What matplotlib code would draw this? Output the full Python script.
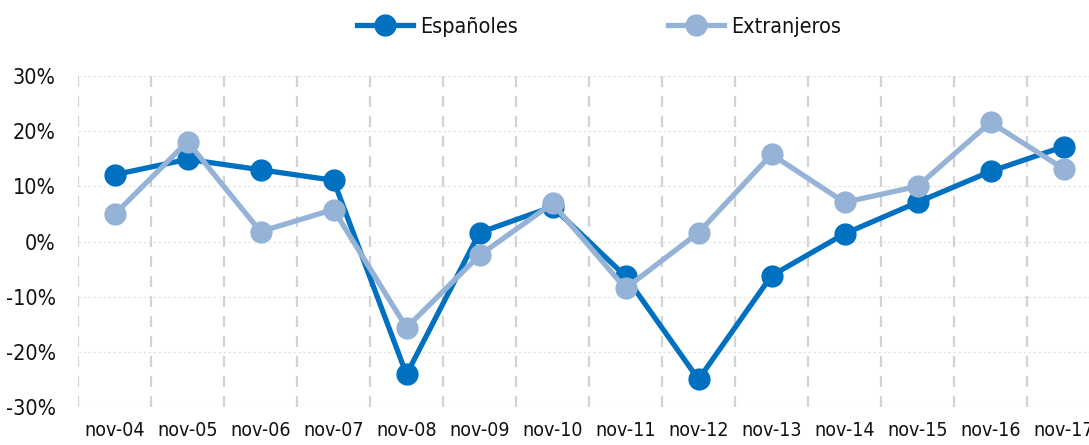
import matplotlib
matplotlib.use("Agg")
import matplotlib.pyplot as plt
from matplotlib.ticker import FuncFormatter, MultipleLocator

plt.rcParams['font.family'] = ['DejaVu Sans']
plt.rcParams['font.stretch'] = 'condensed'

categories = ["nov-04", "nov-05", "nov-06", "nov-07", "nov-08", "nov-09", "nov-10",
              "nov-11", "nov-12", "nov-13", "nov-14", "nov-15", "nov-16", "nov-17"]
espanoles = [12.1, 14.9, 13.0, 11.1, -24.1, 1.6, 6.3, -6.3, -25.0, -6.2, 1.4, 7.1, 12.7, 17.2]
extranjeros = [4.9, 18.1, 1.8, 5.8, -15.6, -2.5, 6.9, -8.5, 1.6, 15.8, 7.1, 10.0, 21.6, 13.2]

c_esp = "#0070C0"
c_ext = "#95B3D7"

fig = plt.figure(figsize=(10.89, 4.45), dpi=100)
ax = fig.add_axes([78 / 1089, 1 - 407 / 445, (1100 - 78) / 1089, (407 - 76) / 445])

x = list(range(len(categories)))
ax.plot(x, espanoles, color=c_esp, lw=3.8, marker="o", ms=15, label="Españoles", zorder=3)
ax.plot(x, extranjeros, color=c_ext, lw=3.8, marker="o", ms=15, label="Extranjeros", zorder=4)

ax.set_xlim(-0.5, len(categories) - 0.5)
ax.set_ylim(-30, 30)
ax.yaxis.set_major_locator(MultipleLocator(10))
ax.yaxis.set_major_formatter(FuncFormatter(lambda v, p: f"{v:.0f}%"))
ax.set_xticks(x)
ax.set_xticklabels(categories)

# gridlines
for v in range(-30, 31, 10):
    ax.axhline(v, color="#e3e3e3", lw=0.9, ls=(0, (2, 2)), zorder=1)
for i in range(len(categories)):
    ax.axvline(i - 0.5, color="#d3d3d3", lw=1.6, ls=(0, (5, 4)), zorder=1)

for s in ax.spines.values():
    s.set_visible(False)
ax.tick_params(length=0, colors="#111111")
ax.tick_params(axis="x", pad=10, labelsize=14)
ax.tick_params(axis="y", pad=16, labelsize=15.5)

fig.legend(loc="center", bbox_to_anchor=(0.55, 0.94), ncol=2, frameon=False,
           fontsize=15.5, columnspacing=7, handlelength=2.6, handletextpad=0.3,
           labelcolor="#111111")

fig.savefig("out.png", dpi=100)
